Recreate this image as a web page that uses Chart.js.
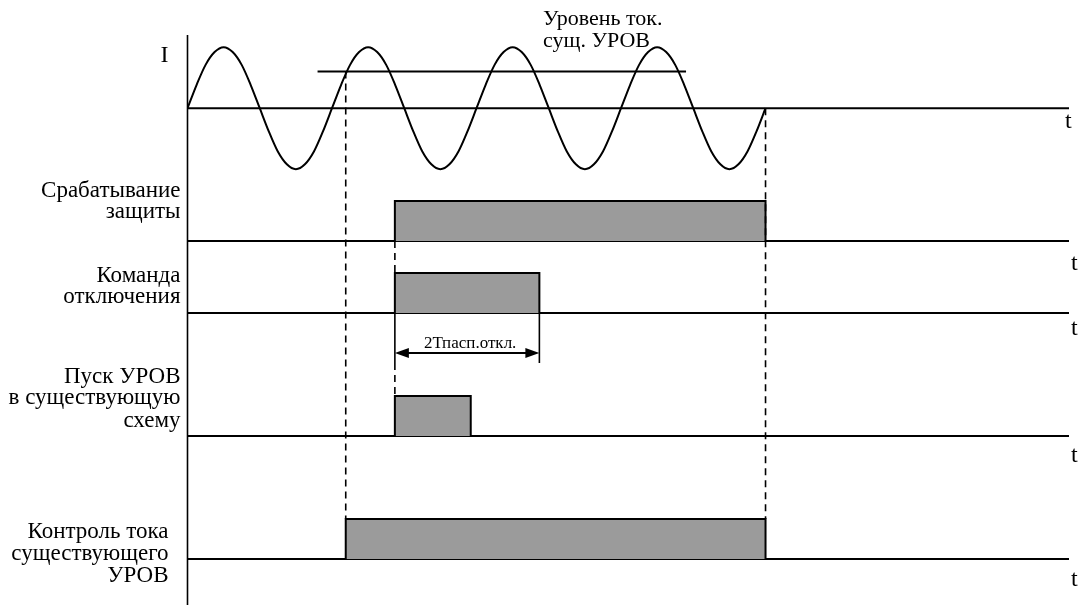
<!DOCTYPE html>
<html>
<head>
<meta charset="utf-8">
<style>
  html, body { margin: 0; padding: 0; background: #fff; overflow: hidden; }
  #wrap { width: 1082px; height: 607px; position: relative; }
</style>
<script src="https://cdn.jsdelivr.net/npm/chart.js@4.4.1/dist/chart.umd.min.js"></script>
</head>
<body>
<div id="wrap"><canvas id="c"></canvas></div>
<script>
// ---- data (time in ms, current in per-unit of amplitude) ----
const sineT = [0, 1.25, 2.5, 3.75, 5, 6.25, 7.5, 8.75, 10, 11.25, 12.5, 13.75, 15, 16.25, 17.5, 18.75,
               20, 21.25, 22.5, 23.75, 25, 26.25, 27.5, 28.75, 30, 31.25, 32.5, 33.75, 35, 36.25, 37.5, 38.75,
               40, 41.25, 42.5, 43.75, 45, 46.25, 47.5, 48.75, 50, 51.25, 52.5, 53.75, 55, 56.25, 57.5, 58.75,
               60, 61.25, 62.5, 63.75, 65, 66.25, 67.5, 68.75, 70, 71.25, 72.5, 73.75, 75, 76.25, 77.5, 78.75, 80];
const sineI = [0, 0.38, 0.71, 0.92, 1, 0.92, 0.71, 0.38, 0, -0.38, -0.71, -0.92, -1, -0.92, -0.71, -0.38,
               0, 0.38, 0.71, 0.92, 1, 0.92, 0.71, 0.38, 0, -0.38, -0.71, -0.92, -1, -0.92, -0.71, -0.38,
               0, 0.38, 0.71, 0.92, 1, 0.92, 0.71, 0.38, 0, -0.38, -0.71, -0.92, -1, -0.92, -0.71, -0.38,
               0, 0.38, 0.71, 0.92, 1, 0.92, 0.71, 0.38, 0, -0.38, -0.71, -0.92, -1, -0.92, -0.71, -0.38, 0];
const thresholdLevel = 0.6;
const thresholdSpan = [18, 69];
const thresholdLabel = ['Уровень ток.', 'сущ. УРОВ'];
const signalLabels = [
  ['Срабатывание', 'защиты'],
  ['Команда', 'отключения'],
  ['Пуск УРОВ', 'в существующую', 'схему'],
  ['Контроль тока', 'существующего', 'УРОВ']
];
const signalOn  = [28.7, 28.7, 28.7, 21.9];
const signalOff = [80, 48.7, 39.2, 80];
const dimLabel = '2Тпасп.откл.';
const timeEnd = 122;

// ---- styles / layout ----
const FONT = '"Liberation Serif", "Times New Roman", serif';
const GRAY = '#9b9b9b';
const axisIds = ['y1', 'y2', 'y3', 'y4'];
const panelRanges = [[-0.6, 1.49], [-0.8, 1.2], [-0.85, 2.275], [-1.15, 2.225]];
const panelPx = [83.6, 80, 125, 135];
const labelOffsets = [[-44, -23], [-31, -10], [-53, -32, -9], [-21, 1, 23]];
const labelGap = [7, 7, 7, 19];
const tOffsets = [29, 22, 26, 27];

const datasets = [
  {
    label: 'I',
    data: sineT.map((t, i) => ({ x: t, y: sineI[i] })),
    yAxisID: 'yI', borderColor: '#000', borderWidth: 2, pointRadius: 0,
    cubicInterpolationMode: 'monotone', fill: false
  },
  {
    label: 'threshold',
    data: [{ x: thresholdSpan[0], y: thresholdLevel }, { x: thresholdSpan[1], y: thresholdLevel }],
    yAxisID: 'yI', borderColor: '#000', borderWidth: 2, pointRadius: 0, fill: false
  }
];
signalLabels.forEach((lbl, i) => {
  datasets.push({
    label: lbl.join(' '),
    data: [{ x: signalOn[i], y: 0 }, { x: signalOn[i], y: 1 }, { x: signalOff[i], y: 1 }, { x: signalOff[i], y: 0 }],
    yAxisID: axisIds[i], borderColor: '#000', borderWidth: 2, pointRadius: 0,
    backgroundColor: GRAY, fill: 'origin', tension: 0
  });
});

const scales = {
  x: { type: 'linear', min: 0, max: timeEnd, display: false },
  yI: { type: 'linear', position: 'left', stack: 'p', stackWeight: 146.4, weight: 5, min: -1.2, max: 1.2, display: false }
};
axisIds.forEach((id, i) => {
  scales[id] = { type: 'linear', position: 'left', stack: 'p', stackWeight: panelPx[i], weight: 4 - i,
                 min: panelRanges[i][0], max: panelRanges[i][1], display: false };
});

function line(ctx, x1, y1, x2, y2) {
  ctx.beginPath(); ctx.moveTo(x1, y1); ctx.lineTo(x2, y2); ctx.stroke();
}

const diagramPlugin = {
  id: 'diagram',
  beforeDatasetsDraw(chart) {
    const { ctx, chartArea: a, scales: s } = chart;
    ctx.save();
    ctx.strokeStyle = '#000';
    ctx.lineWidth = 1.6;
    line(ctx, a.left, a.top, a.left, a.bottom);
    ctx.lineWidth = 2;
    ['yI'].concat(axisIds).forEach(id => {
      const y = s[id].getPixelForValue(0);
      line(ctx, a.left, y, a.right, y);
    });
    ctx.restore();
  },
  afterDatasetsDraw(chart) {
    const { ctx, chartArea: a, scales: s } = chart;
    const X = v => s.x.getPixelForValue(v);
    ctx.save();
    ctx.strokeStyle = '#000';
    ctx.fillStyle = '#000';
    ctx.lineWidth = 1.6;
    // dashed projection lines
    ctx.setLineDash([7, 5]);
    line(ctx, X(signalOn[3]), s.yI.getPixelForValue(thresholdLevel), X(signalOn[3]), s.y4.getPixelForValue(1));
    line(ctx, X(signalOff[0]), s.yI.getPixelForValue(0), X(signalOff[0]), s.y4.getPixelForValue(1));
    line(ctx, X(signalOn[0]), s.y1.getPixelForValue(0), X(signalOn[0]), s.y2.getPixelForValue(1));
    line(ctx, X(signalOn[1]), s.y2.getPixelForValue(-1.25), X(signalOn[1]), s.y3.getPixelForValue(1));
    ctx.setLineDash([]);
    // dimension: extension lines + double arrow
    const yTop = s.y2.getPixelForValue(0), yBot = s.y2.getPixelForValue(-1.25), yA = s.y2.getPixelForValue(-1);
    const xa = X(signalOn[1]), xb = X(signalOff[1]);
    line(ctx, xa, yTop, xa, yBot);
    line(ctx, xb, yTop, xb, yBot);
    ctx.lineWidth = 2;
    line(ctx, xa + 10, yA, xb - 10, yA);
    ctx.beginPath(); ctx.moveTo(xa, yA); ctx.lineTo(xa + 14, yA - 5); ctx.lineTo(xa + 14, yA + 5); ctx.closePath(); ctx.fill();
    ctx.beginPath(); ctx.moveTo(xb, yA); ctx.lineTo(xb - 14, yA - 5); ctx.lineTo(xb - 14, yA + 5); ctx.closePath(); ctx.fill();
    ctx.font = '17px ' + FONT;
    ctx.textAlign = 'center'; ctx.textBaseline = 'alphabetic';
    ctx.fillText(dimLabel, (xa + xb) / 2 + 3, yA - 5);
    // texts
    ctx.font = '23px ' + FONT;
    ctx.textAlign = 'right';
    signalLabels.forEach((lines, i) => {
      const y0 = s[axisIds[i]].getPixelForValue(0);
      lines.forEach((t, j) => ctx.fillText(t, a.left - labelGap[i], y0 + labelOffsets[i][j]));
    });
    ctx.textAlign = 'left';
    ctx.font = '24px ' + FONT;
    ctx.fillText('I', a.left - 27, a.top + 27);
    ctx.fillText('t', a.right - 4, s.yI.getPixelForValue(0) + 20);
    axisIds.forEach((id, i) => ctx.fillText('t', a.right + 2, s[id].getPixelForValue(0) + tOffsets[i]));
    ctx.font = '22px ' + FONT;
    const xl = X(49.2);
    ctx.fillText(thresholdLabel[0], xl, 25);
    ctx.fillText(thresholdLabel[1], xl, 47);
    ctx.restore();
  }
};

new Chart(document.getElementById('c'), {
  type: 'line',
  data: { datasets },
  options: {
    responsive: true, maintainAspectRatio: false, animation: false,
    parsing: false, normalized: true,
    layout: { padding: { left: 187.5, right: 13, top: 35, bottom: 2 } },
    scales,
    plugins: { legend: { display: false }, tooltip: { enabled: false } },
    events: []
  },
  plugins: [diagramPlugin]
});
</script>
</body>
</html>
